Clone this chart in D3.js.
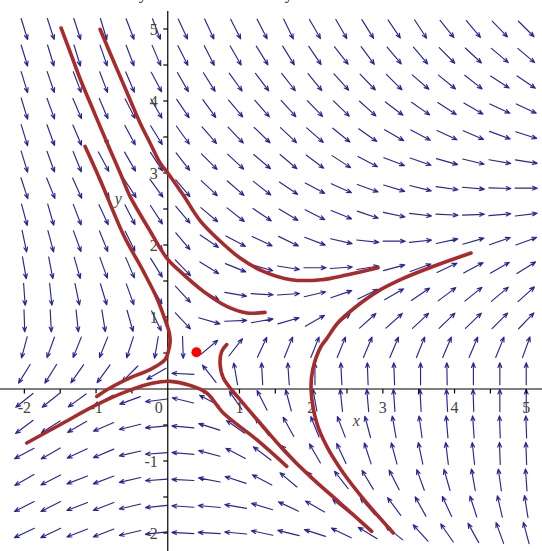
<!DOCTYPE html>
<html><head><meta charset="utf-8">
<script src="https://cdn.jsdelivr.net/npm/d3@7/dist/d3.min.js"></script>
<style>html,body{margin:0;padding:0;background:#fff;}svg{display:block;}</style>
</head><body>
<script>
// ---- data ----
const xView = [-2.34, 5.22];
const yView = [-2.25, 5.25];
const xTicksMajor = [-2, -1, 0, 1, 2, 3, 4, 5];
const yTicksMajor = [-2, -1, 1, 2, 3, 4, 5];
const xTicksMinor = [-1.5, -0.5, 0.5, 1.5, 2.5, 3.5, 4.5];
const yTicksMinor = [-1.5, -0.5, 0.5, 1.5, 2.5, 3.5, 4.5];
const xTickLabels = ["-2", "-1", "0", "1", "2", "3", "4", "5"];
const yTickLabels = ["-2", "-1", "1", "2", "3", "4", "5"];

// direction-field grid (20 x 20)
const xGrid = [-2, -1.632, -1.263, -0.895, -0.526, -0.158, 0.211, 0.579, 0.947, 1.316,
               1.684, 2.053, 2.421, 2.789, 3.158, 3.526, 3.895, 4.263, 4.632, 5];
const yGrid = [5, 4.632, 4.263, 3.895, 3.526, 3.158, 2.789, 2.421, 2.053, 1.684,
               1.316, 0.947, 0.579, 0.211, -0.158, -0.526, -0.895, -1.263, -1.632, -2];
// arrow directions in degrees (0 = right, 90 = up), row 0 = top
const arrowAngles = [
  [-73,-72,-72,-73,-69,-69,-65,-65,-63,-63,-64,-60,-60,-58,-56,-57,-51,-50,-46,-45],
  [-73,-73,-73,-71,-69,-67,-63,-63,-60,-58,-58,-56,-52,-53,-50,-50,-45,-43,-40,-40],
  [-73,-71,-69,-69,-67,-62,-60,-58,-54,-53,-52,-51,-48,-46,-45,-41,-39,-38,-33,-34],
  [-73,-70,-67,-67,-63,-60,-56,-54,-50,-49,-48,-46,-44,-42,-37,-35,-33,-30,-25,-25],
  [-73,-70,-67,-64,-62,-58,-54,-49,-46,-44,-43,-41,-39,-35,-30,-28,-25,-23,-20,-18],
  [-73,-70,-68,-62,-60,-57,-52,-45,-43,-40,-40,-37,-33,-28,-21,-19,-16,-14,-10,-9],
  [-72,-68,-66,-60,-57,-54,-50,-43,-41,-38,-34,-28,-24,-20,-17,-14,-8,-5,-2,0],
  [-75,-74,-69,-65,-63,-57,-50,-40,-38,-34,-31,-27,-22,-19,-12,-7,-3,2,5,7],
  [-78,-75,-70,-68,-64,-57,-50,-34,-28,-25,-26,-21,-13,-6,0,6,12,16,19,20],
  [-80,-79,-74,-70,-67,-58,-46,-32,-22,-16,-9,0,4,9,15,20,25,28,30,32],
  [-86,-84,-78,-73,-70,-60,-47,-30,-10,-3,4,13,19,26,30,34,37,39,40,42],
  [-88,-87,-84,-81,-74,-64,-47,-16,2,10,16,30,38,42,42,43,44,44,45,46],
  [-105,-110,-112,-112,-108,-100,-88,40,52,65,68,68,68,67,67,68,67,67,68,70],
  [-122,-122,-125,-126,-135,-150,177,128,100,93,94,90,93,92,92,90,91,90,90,90],
  [-141,-141,-144,-151,-160,-173,166,152,125,117,105,100,96,95,94,93,93,92,90,90],
  [-143,-148,-150,-157,-166,-175,175,163,145,128,119,112,111,105,100,98,95,94,92,92],
  [-152,-150,-155,-157,-167,-176,175,165,152,143,133,120,115,108,105,102,97,96,92,92],
  [-150,-153,-159,-159,-167,-176,177,169,162,152,140,134,128,121,117,110,106,100,98,94],
  [-153,-153,-159,-159,-167,-174,176,175,170,163,155,150,141,131,127,119,115,108,103,99],
  [-155,-155,-159,-159,-167,-174,177,177,175,168,166,162,154,149,141,132,125,119,110,105]
];

// solution curves [x, y]
const curveA = [[-1.488,5.014],[-1.339,4.619],[-1.199,4.250],[-1.083,3.976],[-0.944,3.647],
  [-0.805,3.324],[-0.665,3.004],[-0.526,2.675],[-0.271,2.236],[-0.014,1.819],[0.172,1.633],
  [0.497,1.356],[0.823,1.147],[1.102,1.056],[1.357,1.064]];
const curveB = [[-1.153,3.369],[-0.944,2.907],[-0.619,2.143],[-0.340,1.633],[-0.153,1.264],
  [-0.038,0.963],[0.022,0.778],[0.032,0.643],[0.008,0.522],[-0.038,0.407],[-0.247,0.268],
  [-0.480,0.175],[-0.805,0.014],[-0.990,-0.103]];
const curveC = [[-0.944,4.996],[-0.805,4.667],[-0.665,4.342],[-0.526,4.018],[-0.386,3.694],
  [-0.247,3.417],[-0.107,3.139],[0.008,2.99],[0.218,2.69],[0.450,2.34],[0.729,2.055],
  [1.008,1.819],[1.333,1.633],[1.720,1.518],[2.138,1.518],[2.510,1.588],[2.933,1.685]];
const curveD = [[-1.967,-0.750],[-1.502,-0.496],[-0.990,-0.218],[-0.572,-0.033],[-0.201,0.083],
  [0.032,0.106],[0.311,0.050],[0.544,-0.056],[0.775,-0.333],[1.241,-0.704],[1.660,-1.075]];
const curveE = [[0.823,0.617],[0.753,0.522],[0.729,0.361],[0.775,0.153],[1.008,-0.149],
  [1.287,-0.472],[1.612,-0.843],[1.985,-1.214],[2.403,-1.583],[2.845,-1.978]];
const curveF = [[4.230,1.889],[3.766,1.726],[3.300,1.542],[2.929,1.356],[2.603,1.125],
  [2.371,0.917],[2.208,0.685],[2.138,0.592],[2.022,0.268],[1.999,-0.010],[2.078,-0.472],
  [2.218,-0.797],[2.449,-1.167],[2.775,-1.583],[3.146,-2.0]];
const curves = [curveA, curveB, curveC, curveD, curveE, curveF];
const equilibrium = [0.40, 0.51];

// ---- drawing ----
const W = 542, H = 551;
const svg = d3.select("body").append("svg").attr("width", W).attr("height", H);
const x = d3.scaleLinear().domain(xView).range([0, W]);
const y = d3.scaleLinear().domain(yView).range([H, 11]);

// cut-off title descenders (title lies above the cropped picture)
svg.append("g").selectAll("text").data([143, 289]).join("text")
  .attr("x", d => d).attr("y", -1).attr("text-anchor", "middle")
  .attr("font-family", "Liberation Serif, serif").attr("font-size", 17)
  .attr("fill", "#111").text("y");

// arrows
const L = 22, HL = 5, HA = 22 * Math.PI / 180;
const arrows = [];
yGrid.forEach((yv, j) => xGrid.forEach((xv, i) => arrows.push({xv, yv, a: arrowAngles[j][i]})));
svg.append("g").attr("fill", "none").attr("stroke", "#26269a").attr("stroke-width", 1.15)
  .attr("stroke-linecap", "round").attr("stroke-linejoin", "round")
  .selectAll("path").data(arrows).join("path")
  .attr("d", d => {
    const cx = x(d.xv), cy = y(d.yv);
    const t = d.a * Math.PI / 180;
    const ux = Math.cos(t), uy = -Math.sin(t);
    const x0 = cx - ux * L / 2, y0 = cy - uy * L / 2;
    const x1 = cx + ux * L / 2, y1 = cy + uy * L / 2;
    const back = Math.atan2(-uy, -ux);
    const h1x = x1 + HL * Math.cos(back + HA), h1y = y1 + HL * Math.sin(back + HA);
    const h2x = x1 + HL * Math.cos(back - HA), h2y = y1 + HL * Math.sin(back - HA);
    return `M${x0},${y0}L${x1},${y1}M${h1x},${h1y}L${x1},${y1}L${h2x},${h2y}`;
  });

// axes
const axG = svg.append("g").attr("stroke", "#000").attr("stroke-width", 1.2);
axG.append("line").attr("x1", x(xView[0])).attr("x2", x(xView[1])).attr("y1", y(0)).attr("y2", y(0));
axG.append("line").attr("x1", x(0)).attr("x2", x(0)).attr("y1", y(yView[0])).attr("y2", y(yView[1]));
axG.selectAll(".xt").data(xTicksMajor.filter(v => v !== 0).concat(xTicksMinor)).join("line")
  .attr("x1", d => x(d)).attr("x2", d => x(d)).attr("y1", y(0)).attr("y2", y(0) + 4.5);
axG.selectAll(".yt").data(yTicksMajor.concat(yTicksMinor)).join("line")
  .attr("y1", d => y(d)).attr("y2", d => y(d)).attr("x1", x(0)).attr("x2", x(0) - 4.5);

const lab = svg.append("g").attr("font-family", "Liberation Serif, Times New Roman, serif")
  .attr("font-size", 16).attr("fill", "#444");
lab.selectAll(".xl").data(xTicksMajor).join("text")
  .attr("x", (d) => d === 0 ? x(0) - 9 : x(d)).attr("y", y(0) + 24)
  .attr("text-anchor", "middle").text((d, i) => xTickLabels[i]);
lab.selectAll(".yl").data(yTicksMajor).join("text")
  .attr("x", x(0) - 10).attr("y", d => y(d)).attr("dy", "0.35em")
  .attr("text-anchor", "end").text((d, i) => yTickLabels[i]);
lab.append("text").attr("x", x(2.63)).attr("y", y(-0.52)).attr("font-style", "italic")
  .attr("text-anchor", "middle").text("x");
lab.append("text").attr("x", x(-0.69)).attr("y", y(2.57)).attr("font-style", "italic")
  .attr("text-anchor", "middle").text("y");

// solution curves
const line = d3.line().x(d => x(d[0])).y(d => y(d[1])).curve(d3.curveCatmullRom.alpha(0.5));
svg.append("g").attr("fill", "none").attr("stroke", "#a82a2a").attr("stroke-width", 3.6)
  .attr("stroke-linecap", "round").attr("stroke-linejoin", "round")
  .selectAll("path").data(curves).join("path").attr("d", line);

// equilibrium point
svg.append("circle").attr("cx", x(equilibrium[0])).attr("cy", y(equilibrium[1]))
  .attr("r", 5).attr("fill", "#ff0000");
</script>
</body></html>
